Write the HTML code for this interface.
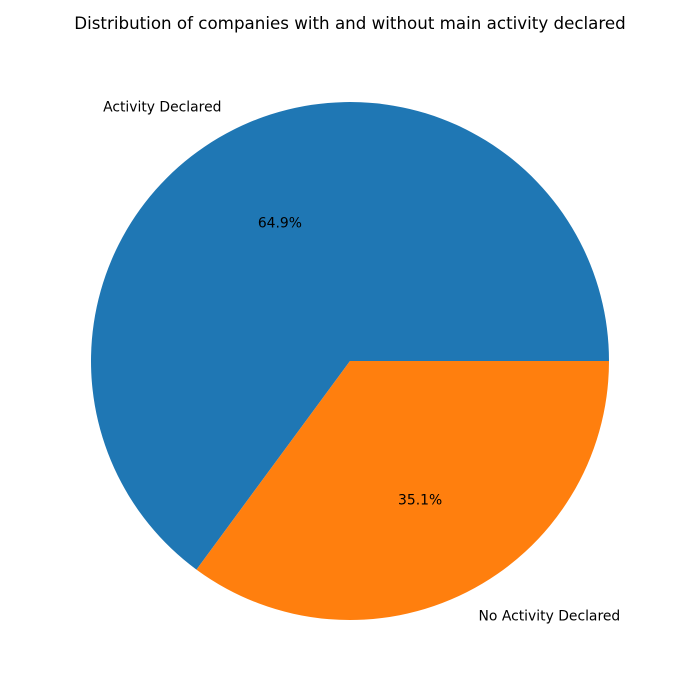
<!DOCTYPE html>
<html>
<head>
<meta charset="utf-8">
<style>
html,body{margin:0;padding:0;background:#fff;}
svg{display:block;font-family:"DejaVu Sans","Liberation Sans",sans-serif;}
</style>
</head>
<body>
<svg id="chart" width="700" height="700" viewBox="0 0 700 700">
<text x="350" y="29" text-anchor="middle" font-size="16.7" fill="#000">Distribution of companies with and without main activity declared</text>
<g id="slices"></g>
<g id="labels"></g>
</svg>
<script>
const categories = ["Activity Declared", "No Activity Declared"];
const values = [64.9, 35.1];
const pctLabels = ["64.9%", "35.1%"];
const colors = ["#1f77b4", "#ff7f0e"];

const cx = 350, cy = 361, r = 259;
const ns = "http://www.w3.org/2000/svg";
const slicesG = document.getElementById("slices");
const labelsG = document.getElementById("labels");
const total = values.reduce((a, b) => a + b, 0);
function pt(angDeg, rad) {
  const a = angDeg * Math.PI / 180;
  return [cx + rad * Math.cos(a), cy - rad * Math.sin(a)];
}
let start = 0;
values.forEach((v, i) => {
  const sweep = v / total * 360;
  const end = start + sweep;
  const [x1, y1] = pt(start, r);
  const [x2, y2] = pt(end, r);
  const large = sweep > 180 ? 1 : 0;
  const p = document.createElementNS(ns, "path");
  p.setAttribute("d", `M${cx},${cy} L${x1},${y1} A${r},${r} 0 ${large} 0 ${x2},${y2} Z`);
  p.setAttribute("fill", colors[i]);
  
  
  slicesG.appendChild(p);

  const mid = start + sweep / 2;
  const [lx, ly] = pt(mid, r * 1.1);
  const t = document.createElementNS(ns, "text");
  t.setAttribute("x", lx);
  t.setAttribute("y", ly + 5);
  t.setAttribute("font-size", "13.9");
  t.setAttribute("text-anchor", Math.cos(mid * Math.PI / 180) < 0 ? "end" : "start");
  t.textContent = categories[i];
  
  
  labelsG.appendChild(t);

  const [px, py] = pt(mid, r * 0.6);
  const t2 = document.createElementNS(ns, "text");
  t2.setAttribute("x", px);
  t2.setAttribute("y", py + 5);
  t2.setAttribute("font-size", "13.9");
  t2.setAttribute("text-anchor", "middle");
  t2.textContent = pctLabels[i];
  
  
  labelsG.appendChild(t2);

  start = end;
});
</script>
</body>
</html>
